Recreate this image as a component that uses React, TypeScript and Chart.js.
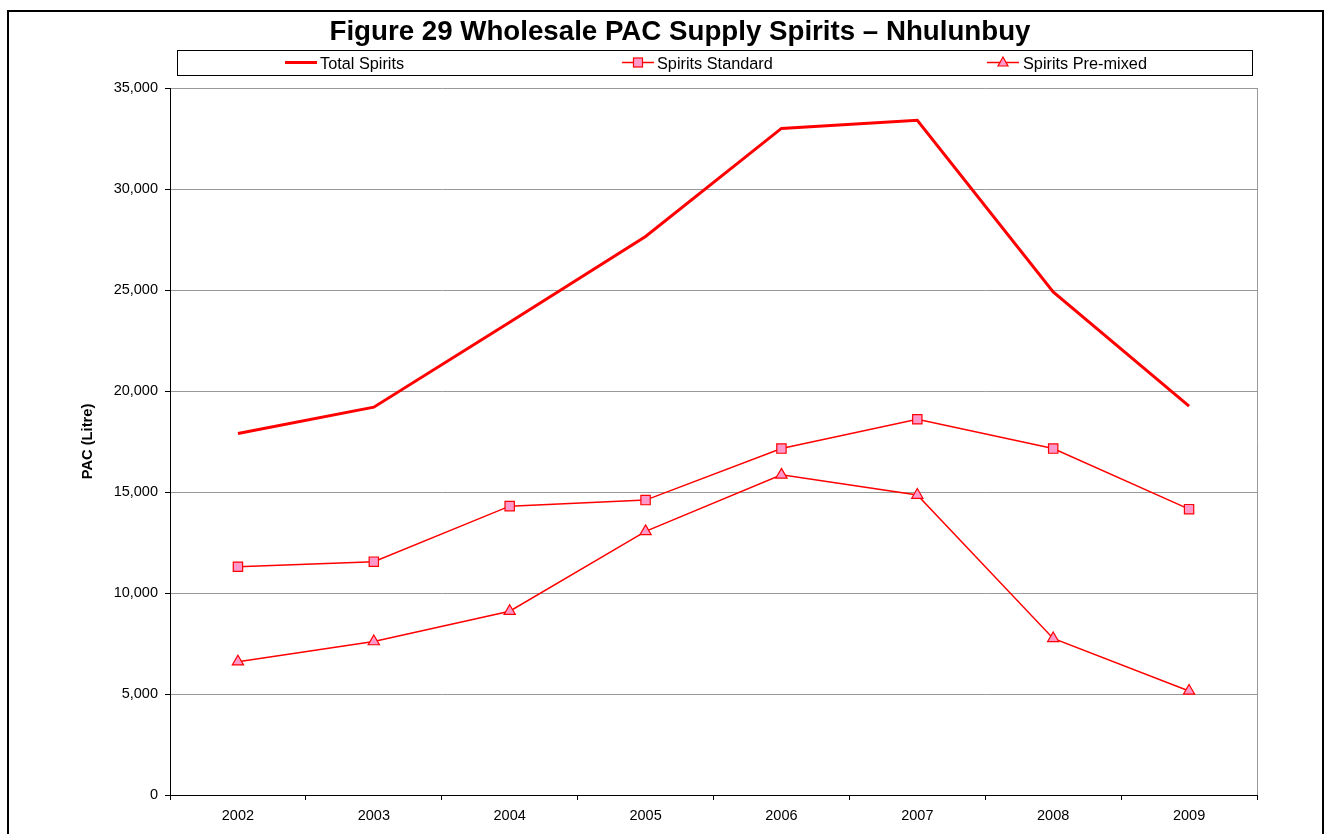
import React, { useEffect, useRef } from "react";
import { Chart, registerables } from "chart.js";

Chart.register(...registerables);

const years = ["2002", "2003", "2004", "2005", "2006", "2007", "2008", "2009"];
const totalSpirits = [17900, 19200, 23400, 27650, 33000, 33400, 24900, 19250];
const spiritsStandard = [11300, 11550, 14300, 14600, 17150, 18600, 17150, 14150];
const spiritsPremixed = [6600, 7600, 9100, 13050, 15850, 14850, 7750, 5150];
const seriesNames = ["Total Spirits", "Spirits Standard", "Spirits Pre-mixed"];
const chartTitle = "Figure 29 Wholesale PAC Supply Spirits \u2013 Nhulunbuy";
const yAxisTitle = "PAC (Litre)";

const FONT = "'Liberation Sans', Arial, Helvetica, sans-serif";
const RED = "#FF0000";
const PINK = "#FF99CC";

// legend layout (x of line start, x of text start)
const legendLayout = [
  { line: 285, text: 320 },
  { line: 622, text: 657 },
  { line: 987, text: 1023 },
];

const decorPlugin = {
  id: "decor",
  afterDraw(chart: any) {
    const ctx = chart.ctx as CanvasRenderingContext2D;
    const area = chart.chartArea;
    ctx.save();
    // outer border
    ctx.strokeStyle = "#000";
    ctx.lineWidth = 2;
    ctx.beginPath();
    ctx.moveTo(8, 840);
    ctx.lineTo(8, 11);
    ctx.lineTo(1323, 11);
    ctx.lineTo(1323, 840);
    ctx.stroke();

    // plot area right border
    ctx.strokeStyle = "#999";
    ctx.lineWidth = 1;
    ctx.beginPath();
    ctx.moveTo(Math.round(area.right) + 0.5, area.top);
    ctx.lineTo(Math.round(area.right) + 0.5, area.bottom);
    ctx.stroke();

    // title
    ctx.fillStyle = "#000";
    ctx.font = `bold 27.7px ${FONT}`;
    ctx.textAlign = "center";
    ctx.textBaseline = "alphabetic";
    ctx.fillText(chartTitle, 680, 40);

    // legend box
    ctx.strokeStyle = "#000";
    ctx.lineWidth = 1;
    ctx.strokeRect(177.5, 50.5, 1075, 25);

    ctx.font = `16.3px ${FONT}`;
    ctx.textAlign = "left";
    const yMid = 62.5;
    chart.data.datasets.forEach((ds: any, i: number) => {
      const pos = legendLayout[i];
      ctx.strokeStyle = ds.borderColor;
      ctx.lineWidth = ds.borderWidth;
      ctx.beginPath();
      ctx.moveTo(pos.line, yMid);
      ctx.lineTo(pos.line + 32, yMid);
      ctx.stroke();
      if (ds.pointStyle && ds.pointRadius > 0) {
        ctx.save();
        ctx.fillStyle = ds.pointBackgroundColor;
        ctx.strokeStyle = ds.pointBorderColor;
        ctx.lineWidth = ds.pointBorderWidth;
        const cx = pos.line + 16;
        if (ds.pointStyle === "rect") {
          ctx.fillRect(cx - 4.5, yMid - 4.5, 9, 9);
          ctx.strokeRect(cx - 4.5, yMid - 4.5, 9, 9);
        } else {
          ctx.beginPath();
          ctx.moveTo(cx, yMid - 5.5);
          ctx.lineTo(cx + 5, yMid + 3.5);
          ctx.lineTo(cx - 5, yMid + 3.5);
          ctx.closePath();
          ctx.fill();
          ctx.stroke();
        }
        ctx.restore();
      }
      ctx.fillStyle = "#000";
      ctx.fillText(ds.label, pos.text, 69);
    });
    ctx.restore();
  },
};

export default function App() {
  const canvasRef = useRef<HTMLCanvasElement | null>(null);

  useEffect(() => {
    const canvas = canvasRef.current;
    if (!canvas) return;
    const chart = new Chart(canvas, {
      type: "line",
      data: {
        labels: years,
        datasets: [
          {
            label: seriesNames[0],
            data: totalSpirits,
            borderColor: RED,
            backgroundColor: RED,
            borderWidth: 3,
            pointRadius: 0,
            pointHoverRadius: 0,
            pointStyle: false as any,
            tension: 0,
          },
          {
            label: seriesNames[1],
            data: spiritsStandard,
            borderColor: RED,
            backgroundColor: PINK,
            borderWidth: 1.5,
            pointStyle: "rect",
            pointRadius: 6.6,
            pointBackgroundColor: PINK,
            pointBorderColor: RED,
            pointBorderWidth: 1.2,
            tension: 0,
          },
          {
            label: seriesNames[2],
            data: spiritsPremixed,
            borderColor: RED,
            backgroundColor: PINK,
            borderWidth: 1.5,
            pointStyle: "triangle",
            pointRadius: 6.5,
            pointBackgroundColor: PINK,
            pointBorderColor: RED,
            pointBorderWidth: 1.2,
            tension: 0,
          },
        ],
      },
      options: {
        responsive: true,
        maintainAspectRatio: false,
        animation: false,
        devicePixelRatio: 1,
        layout: { padding: { left: 0, right: 68, top: 88, bottom: 0 } },
        plugins: {
          legend: { display: false },
          title: { display: false },
          tooltip: { enabled: false },
        },
        scales: {
          x: {
            type: "category",
            offset: true,
            grid: {
              display: true,
              offset: true,
              drawOnChartArea: false,
              drawTicks: true,
              tickLength: 5,
              color: "#000",
              tickColor: "#000",
            },
            border: { display: true, color: "#000", width: 1 },
            ticks: {
              color: "#000",
              font: { family: FONT, size: 14.5 },
              padding: 7,
              maxRotation: 0,
              autoSkip: false,
            },
            afterFit: (scale: any) => {
              scale.height = 39;
            },
          },
          y: {
            min: 0,
            max: 35000,
            grid: {
              color: "#999",
              tickColor: "#000",
              tickLength: 5,
              drawTicks: true,
            },
            border: { display: true, color: "#000", width: 1 },
            ticks: {
              stepSize: 5000,
              color: "#000",
              padding: 7,
              font: { family: FONT, size: 14.5 },
              callback: (v: any) => Number(v).toLocaleString("en-US"),
            },
            title: {
              display: true,
              text: yAxisTitle,
              color: "#000",
              font: { family: FONT, size: 14.7, weight: "bold", lineHeight: 1.2 },
              padding: { top: 78.7, bottom: 0 },
            },
            afterFit: (scale: any) => {
              scale.width = 170;
            },
          },
        },
      },
      plugins: [decorPlugin],
    });
    return () => chart.destroy();
  }, []);

  return (
    <div
      style={{
        position: "absolute",
        left: 0,
        top: 0,
        width: 1325,
        height: 834,
        background: "#fff",
      }}
    >
      <canvas ref={canvasRef} />
    </div>
  );
}
